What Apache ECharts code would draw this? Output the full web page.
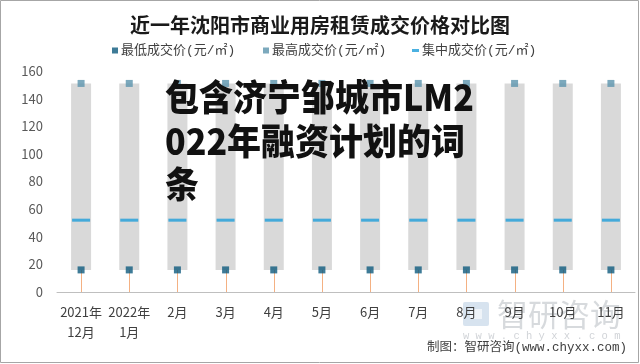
<!DOCTYPE html>
<html>
<head>
<meta charset="utf-8">
<script src="https://cdn.jsdelivr.net/npm/echarts@6/dist/echarts.min.js"></script>
<style>html,body{margin:0;padding:0;background:#fff;}#c{width:640px;height:364px;}</style>
</head>
<body>
<div id="c"></div>
<script>
var categories = ['2021年\n12月','2022年\n1月','2月','3月','4月','5月','6月','7月','8月','9月','10月','11月'];
var minPrice = [16,16,16,16,16,16,16,16,16,16,16,16];
var maxPrice = [151,151,151,151,151,151,151,151,151,151,151,151];
var midPrice = [52,52,52,52,52,52,52,52,52,52,52,52];
var yTicks = {min:0, max:160, interval:20};
var seriesNames = ['最低成交价(元/㎡)','最高成交价(元/㎡)','集中成交价(元/㎡)'];

var rangeData = categories.map(function(c,i){ return [i, minPrice[i], maxPrice[i]]; });
var dropData = categories.map(function(c,i){ return [i, minPrice[i]]; });

var FONT = '"Noto Sans CJK SC", "Noto Sans", sans-serif';
var MONOCJK = '"Liberation Mono", "Noto Sans CJK SC", monospace';
var chart = echarts.init(document.getElementById('c'), null, {renderer:'canvas'});
var legendBase = {
  top: 44, padding: 0, icon: 'rect', itemWidth: 6, itemHeight: 6,
  textStyle: {fontSize: 13, color: '#404040', fontFamily: MONOCJK, padding:[0,0,0,-2]},
  selectedMode: false
};
chart.setOption({
  animation: false,
  backgroundColor: '#fff',
  title: {
    text: '近一年沈阳市商业用房租赁成交价格对比图',
    left: 'center', top: 10,
    textStyle: {fontSize: 20, fontWeight: 'bold', color: '#1a1a1a', fontFamily: FONT}
  },
  legend: [
    Object.assign({}, legendBase, {left: 112, data: [seriesNames[0]]}),
    Object.assign({}, legendBase, {left: 263, data: [seriesNames[1]]}),
    Object.assign({}, legendBase, {left: 412, itemWidth: 7, itemHeight: 3, data: [seriesNames[2]]})
  ],
  grid: {left: 57, right: 5, top: 71, bottom: 72, containLabel: false},
  xAxis: {
    type: 'category', data: categories,
    axisLine: {lineStyle: {color: '#bfbfbf', width: 1}},
    axisTick: {show: false},
    axisLabel: {fontSize: 13, color: '#404040', fontFamily: FONT, lineHeight: 20, margin: 10, interval: 0}
  },
  yAxis: {
    type: 'value', min: yTicks.min, max: yTicks.max, interval: yTicks.interval,
    axisLine: {show: false}, axisTick: {show: false}, splitLine: {show: false},
    axisLabel: {fontSize: 13, color: '#595959', fontFamily: FONT, margin: 14}
  },
  series: [
    {
      type: 'custom', name: 'range', data: rangeData, z: 1,
      encode: {x: 0, y: [1, 2]},
      renderItem: function(params, api){
        var lo = api.coord([api.value(0), api.value(1)]);
        var hi = api.coord([api.value(0), api.value(2)]);
        var w = 20;
        return {type: 'rect', shape: {x: lo[0] - w/2, y: hi[1], width: w, height: lo[1] - hi[1]},
                style: {fill: '#d9d9d9'}};
      }
    },
    {
      type: 'custom', name: 'drop', data: dropData, z: 2,
      encode: {x: 0, y: 1},
      renderItem: function(params, api){
        var a = api.coord([api.value(0), 0]);
        var b = api.coord([api.value(0), api.value(1)]);
        var x = Math.round(a[0]) + 0.5;
        return {type: 'line', shape: {x1: x, y1: a[1], x2: x, y2: b[1]},
                style: {stroke: '#f4b183', lineWidth: 1}};
      }
    },
    {
      type: 'scatter', name: seriesNames[0], data: minPrice, symbol: 'rect', symbolSize: 7, z: 3,
      itemStyle: {color: '#0e5a7d'}
    },
    {
      type: 'scatter', name: seriesNames[1], data: maxPrice, symbol: 'rect', symbolSize: 7, z: 3,
      itemStyle: {color: '#5b93ac'}
    },
    {
      type: 'scatter', name: seriesNames[2], data: midPrice, symbol: 'rect', symbolSize: [18, 3], z: 3,
      itemStyle: {color: '#1e9dd9'}
    }
  ],
  graphic: [
    {type: 'rect', z: 0, silent: true, shape: {x: 0.5, y: 0.5, width: 638, height: 362},
     style: {fill: null, stroke: '#a6a6a6', lineWidth: 1}},
    {type: 'rect', z: 0, silent: true, shape: {x: 463, y: 302, width: 26, height: 24, r: 2},
     style: {fill: 'rgba(140,175,210,0.35)'}},
    {type: 'rect', z: 0, silent: true, shape: {x: 470, y: 309, width: 12, height: 10},
     style: {fill: 'rgba(255,255,255,0.6)'}},
    {type: 'text', z: 0, silent: true, x: 497, y: 314,
     style: {text: '智研咨询', fontSize: 31, fill: 'rgba(150,158,166,0.38)', fontFamily: FONT,
             verticalAlign: 'middle', textAlign: 'left'}},
    {type: 'text', z: 0, silent: true, x: 463, y: 336,
     style: {text: 'w w w . c h y x x . c o m', fontSize: 10.5, fill: 'rgba(150,158,166,0.45)',
             fontFamily: '"Liberation Mono", monospace', verticalAlign: 'middle', textAlign: 'left'}},
    {type: 'text', z: 10, silent: true, x: 627, y: 348,
     style: {text: '制图：智研咨询(www.chyxx.com)', fontSize: 12.5, fill: '#404040',
             fontFamily: MONOCJK, verticalAlign: 'middle', textAlign: 'right'}},
    {type: 'text', z: 100, silent: true, x: 165, y: 106, scaleY: 1.08, originY: 106,
     style: {text: '包含济宁邹城市LM2', fontSize: 34, fontWeight: 900, fill: '#111',
             fontFamily: FONT, verticalAlign: 'middle', textAlign: 'left'}},
    {type: 'text', z: 100, silent: true, x: 165, y: 153, scaleY: 1.08, originY: 153,
     style: {text: '022年融资计划的词', fontSize: 34, fontWeight: 900, fill: '#111',
             fontFamily: FONT, verticalAlign: 'middle', textAlign: 'left'}},
    {type: 'text', z: 100, silent: true, x: 165, y: 200, scaleY: 1.08, originY: 200,
     style: {text: '条', fontSize: 34, fontWeight: 900, fill: '#111',
             fontFamily: FONT, verticalAlign: 'middle', textAlign: 'left'}}
  ]
});
</script>
</body>
</html>
